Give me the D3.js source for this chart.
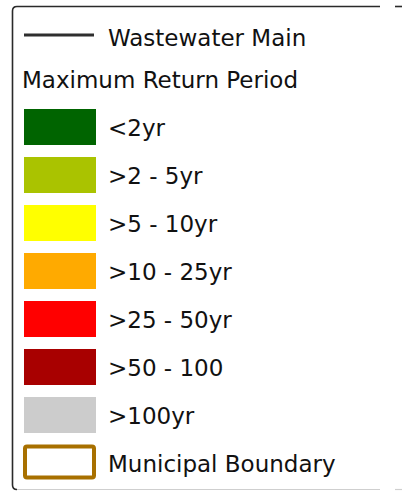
<!DOCTYPE html>
<html>
<head>
<meta charset="utf-8">
<script src="https://cdn.jsdelivr.net/npm/d3@7"></script>
<style>
  html, body { margin: 0; padding: 0; background: #fff; }
  svg { display: block; }
  text { font-family: "DejaVu Sans", sans-serif; fill: #111; }
</style>
</head>
<body>
<svg id="chart" width="402" height="491"></svg>
<script>
const lineLabel = "Wastewater Main";
const legendTitle = "Maximum Return Period";
const classLabels = ["<2yr", ">2 - 5yr", ">5 - 10yr", ">10 - 25yr", ">25 - 50yr", ">50 - 100", ">100yr"];
const classColors = ["#006400", "#aac300", "#ffff00", "#ffaa00", "#ff0000", "#a80000", "#cccccc"];
const boundaryLabel = "Municipal Boundary";
const boundaryColor = "#a87000";

const svg = d3.select("#chart");

// frame (cropped legend panel)
svg.append("path")
  .attr("d", "M380,6.5 L17,6.5 Q12.5,6.5 12.5,11 L12.5,485 Q12.5,489.5 17,489.5")
  .attr("fill", "none").attr("stroke", "#2a2a2a").attr("stroke-width", 1.6);
svg.append("line").attr("x1", 17).attr("x2", 380).attr("y1", 489.5).attr("y2", 489.5)
  .attr("stroke", "#cfcfcf").attr("stroke-width", 1.2);
svg.append("line").attr("x1", 395).attr("x2", 402).attr("y1", 6.5).attr("y2", 6.5)
  .attr("stroke", "#2a2a2a").attr("stroke-width", 1.6);
svg.append("line").attr("x1", 395).attr("x2", 402).attr("y1", 489.5).attr("y2", 489.5)
  .attr("stroke", "#cfcfcf").attr("stroke-width", 1.2);

const fs = 23;

// line symbol
svg.append("line").attr("x1", 24).attr("x2", 94).attr("y1", 35).attr("y2", 35)
  .attr("stroke", "#2e2e2e").attr("stroke-width", 2.8);
svg.append("text").attr("x", 108).attr("y", 46).attr("font-size", fs).text(lineLabel);

svg.append("text").attr("x", 22).attr("y", 88).attr("font-size", fs).text(legendTitle);

// rows
const rows = classLabels.map((l, i) => ({label: l, color: classColors[i], type: "fill"}));
rows.push({label: boundaryLabel, color: boundaryColor, type: "outline"});

const y = d3.scaleBand().domain(d3.range(rows.length)).range([103, 487]).paddingInner(0.25).paddingOuter(0.125);

const g = svg.selectAll("g.row").data(rows).join("g").attr("class", "row")
  .attr("transform", (d, i) => `translate(0,${y(i)})`);

g.filter(d => d.type === "fill").append("rect")
  .attr("x", 24).attr("y", 0).attr("width", 72).attr("height", y.bandwidth())
  .attr("fill", d => d.color);

g.filter(d => d.type === "outline").append("rect")
  .attr("x", 25).attr("y", 1.5).attr("width", 69).attr("height", y.bandwidth() - 5)
  .attr("rx", 2)
  .attr("fill", "#fff").attr("stroke", d => d.color).attr("stroke-width", 4);

g.append("text").attr("x", 108).attr("y", y.bandwidth() / 2 + 9)
  .attr("font-size", fs).text(d => d.label);
</script>
</body>
</html>
